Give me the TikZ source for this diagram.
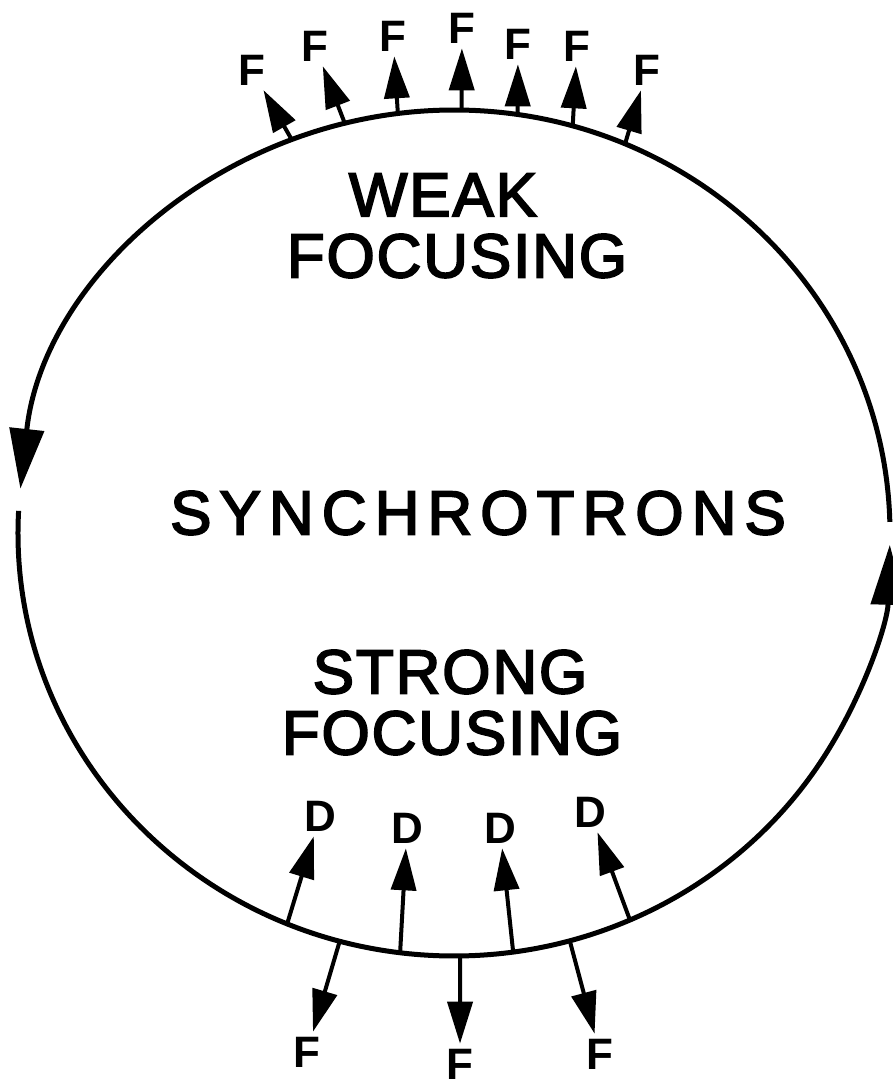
\documentclass[tikz,border=0pt]{standalone}
\usepackage{fontspec}
\setmainfont{Liberation Sans}
\usetikzlibrary{arrows.meta}

\tikzset{
  ring/.style={line width=5pt, -{Triangle[length=60pt,width=34pt]}},
  force/.style={line width=4pt, -{Triangle[length=42pt,width=25pt]}, shorten >=1pt},
  lbl/.style={font=\fontsize{44}{46}\selectfont\bfseries, inner sep=4pt},
  title/.style={font=\fontsize{62}{66}\selectfont\addfontfeature{LetterSpace=3,FakeBold=3}, inner sep=0pt},
  wide/.style={font=\fontsize{62}{66}\selectfont\addfontfeature{LetterSpace=13,FakeBold=3}, inner sep=0pt},
}

\begin{document}
\begin{tikzpicture}[x=1pt,y=1pt]

    \useasboundingbox (0,0) rectangle (892,1092);

    \coordinate (c) at (454,559);

    % the ring, running round anticlockwise
    \draw[ring] (c) ++(1.5:436pt and 423pt) arc[start angle=1.5, end angle=174, x radius=436pt, y radius=423pt];
    \draw[ring] (c) ++(177:436pt and 423pt) arc[start angle=177, end angle=358.4, x radius=436pt, y radius=423pt];

    \node[title] (weak) at (443,897) {WEAK};
    \node[title] (wfoc) at (457,836) {FOCUSING};
    \node[wide] (sync) at (478,579) {SYNCHROTRONS};
    \node[title] (strong) at (450,420) {STRONG};
    \node[title] (sfoc) at (452,359) {FOCUSING};

    % weak focusing: all forces outward
    \foreach \a [count=\i] in {111.8,104.5,97.4,89,81.6,74.2,66.9}
        \path (c) ++(\a:436pt and 423pt) coordinate (t\i);
    \foreach \x/\y [count=\i] in {252/1022,315/1046,393/1056,462/1064,518/1048,577/1046,647/1022}
        \node[lbl] (f\i) at (\x,\y) {F};
    \foreach \i in {1,...,7}
        \draw[force] (t\i) -- (f\i);

    % strong focusing: D inward, F outward
    \foreach \a [count=\i] in {247.5,262.9,277.8,293.8}
        \path (c) ++(\a:436pt and 423pt) coordinate (d\i);
    \foreach \x/\y [count=\i] in {320/276,407/264,500/264,590/280}
        \node[lbl] (dl\i) at (\x,\y) {D};
    \foreach \i in {1,...,4}
        \draw[force] (d\i) -- (dl\i);

    \foreach \a [count=\i] in {254.8,270.8,285.4}
        \path (c) ++(\a:436pt and 423pt) coordinate (o\i);
    \foreach \x/\y [count=\i] in {307/40,460/28,600/38}
        \node[lbl] (fl\i) at (\x,\y) {F};
    \foreach \i in {1,...,3}
        \draw[force] (o\i) -- (fl\i);

\end{tikzpicture}
\end{document}
